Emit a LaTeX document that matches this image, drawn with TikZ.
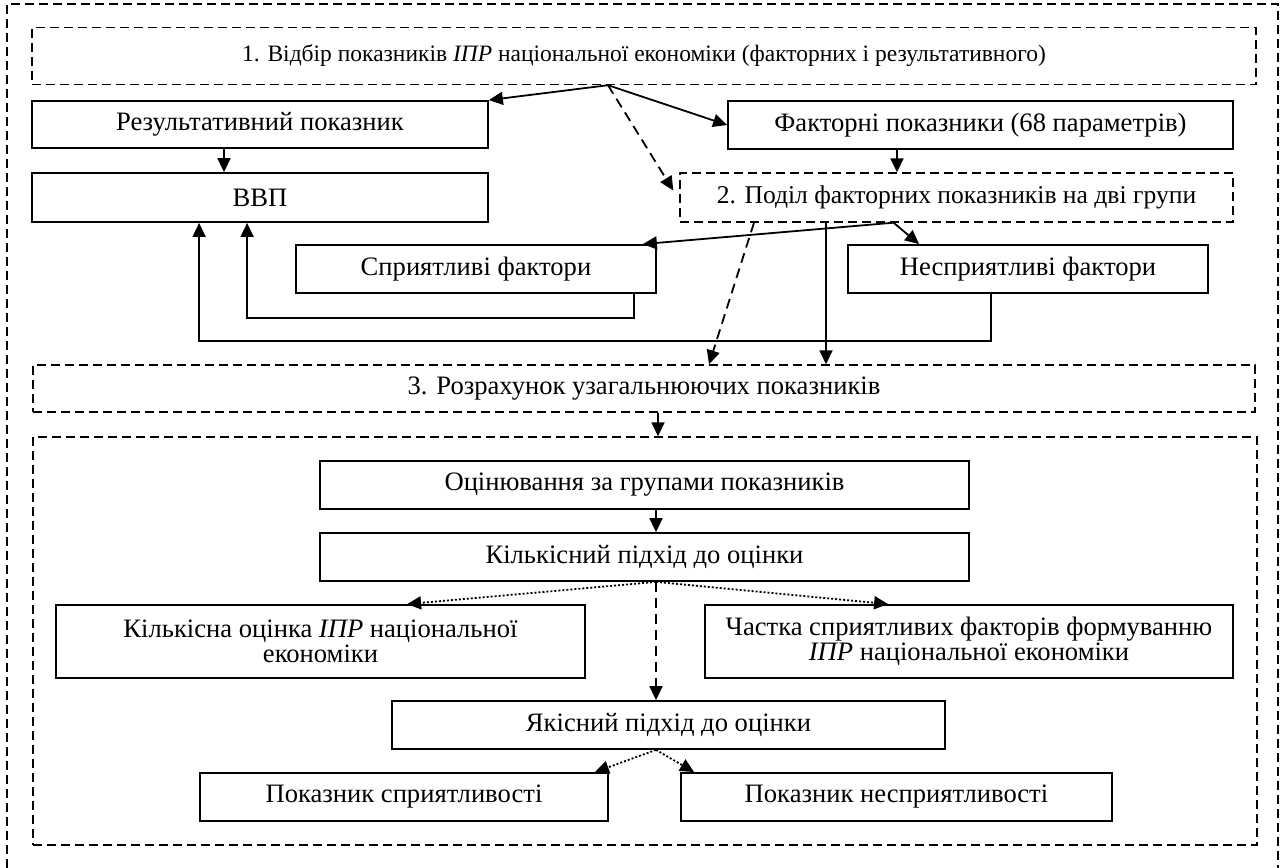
\documentclass[tikz,border=0pt]{standalone}
\usepackage{fontspec}
\setmainfont{Liberation Serif}
\usetikzlibrary{arrows.meta,calc}
\tikzset{
  box/.style={draw, line width=0.9pt, inner sep=0pt, align=center},
  dbox/.style={draw, line width=0.7pt, dash pattern=on 4.5pt off 2.5pt, inner sep=0pt, align=center},
  arr/.style={line width=0.9pt, -{Triangle[length=7pt,width=6.5pt]}},
  dasharr/.style={dash pattern=on 5pt off 3pt},
  dotarr/.style={dash pattern=on 1pt off 1pt}
}
\begin{document}
\begin{tikzpicture}[x=0.5pt,y=-0.5pt,font=\fontsize{13.3}{12.5}\selectfont]
\useasboundingbox (0,0) rectangle (1281,868);
\draw[line width=0.7pt, dash pattern=on 4.5pt off 2.5pt] (7,868) -- (7,4) -- (1278,4) -- (1278,868);

% stage 1
\node[dbox, minimum width=612pt, minimum height=28.5pt, font=\fontsize{11.75}{13}\selectfont] (s1) at (644,56) {1. Відбір показників \textit{ІПР} національної економіки (факторних і результативного)};
\node[box, minimum width=228pt, minimum height=23.5pt] (rez) at (260,124.5) {Результативний показник};
\node[box, minimum width=228pt, minimum height=24.5pt] (vvp) at (260,197.5) {ВВП};
\node[box, minimum width=252.5pt, minimum height=24pt] (fact) at (980.5,125) {Факторні показники (68 параметрів)};

% stage 2
\node[dbox, minimum width=276.5pt, minimum height=24.5pt, font=\fontsize{12.8}{13}\selectfont] (s2) at (956.5,197.5) {2. Поділ факторних показників на дві групи};
\node[box, minimum width=180pt, minimum height=24pt] (spr) at (476,269) {Сприятливі фактори};
\node[box, minimum width=180pt, minimum height=24pt] (nespr) at (1028,269) {Несприятливі фактори};

% stage 3
\node[dbox, minimum width=611pt, minimum height=23.5pt] (s3) at (644,388.5) {3. Розрахунок узагальнюючих показників};
\node[dbox, minimum width=612pt, minimum height=204pt] (grp) at (645,641) {};
\node[box, minimum width=324.5pt, minimum height=24pt] (ocin) at (644.5,485) {Оцінювання за групами показників};
\node[box, minimum width=324.5pt, minimum height=24pt] (kilk) at (644.5,557) {Кількісний підхід до оцінки};
\node[box, minimum width=264.5pt, minimum height=36.5pt] (kocin) at (320.5,641.5) {Кількісна оцінка \textit{ІПР} національної\\економіки};
\node[box, minimum width=264pt, minimum height=36.5pt] (chast) at (969,641.5) {Частка сприятливих факторів формуванню\\\textit{ІПР} національної економіки};
\node[box, minimum width=276.5pt, minimum height=24pt] (yak) at (668.5,725) {Якісний підхід до оцінки};
\node[box, minimum width=204pt, minimum height=24pt] (pspr) at (404,797) {Показник сприятливості};
\node[box, minimum width=215.5pt, minimum height=24pt] (pnespr) at (896.5,797) {Показник несприятливості};

% arrows
\coordinate (o1) at ($(s1.south)+(-36,0)$);
\draw[arr] (o1) -- (rez.north east);
\draw[arr,dasharr] (o1) -- ($(s2.west)+(-6,-7)$);
\draw[arr] (o1) -- (fact.west);
\coordinate (r1) at ($(rez.south)+(-36,0)$);
\draw[arr] (r1) -- (r1 |- vvp.north);
\coordinate (f1) at ($(fact.south)+(-83.5,0)$);
\draw[arr] (f1) -- (f1 |- s2.north);
\coordinate (d1) at ($(s2.south)+(-63,0)$);
\draw[arr] (d1) -- ($(spr.north east)+(-14,0)$);
\draw[arr] (d1) -- ($(nespr.north west)+(72,0)$);
\draw[arr,dasharr] ($(s2.south)+(-202.5,0)$) -- ($(s3.north)+(65,0)$);
\coordinate (d2) at ($(s2.south)+(-130.5,0)$);
\draw[arr] (d2) -- (d2 |- s3.north);
\draw[arr] ($(spr.south east)+(-23,0)$) -- ++(0,24) -| ($(vvp.south west)+(216,0)$);
\draw[arr] ($(nespr.south west)+(144,0)$) -- ++(0,47) -| ($(vvp.south west)+(168,0)$);
\coordinate (g1) at ($(s3.south)+(14,0)$);
\draw[arr] (g1) -- (g1 |- grp.north);
\coordinate (k0) at ($(ocin.south)+(11.5,0)$);
\draw[arr] (k0) -- (k0 |- kilk.north);
\coordinate (k1) at ($(kilk.south)+(11.5,0)$);
\draw[arr,dotarr] (k1) -- ($(kocin.north west)+(352,0)$);
\draw[arr,dotarr] (k1) -- ($(chast.north west)+(184,0)$);
\draw[arr,dasharr] (k1) -- (k1 |- yak.north);
\coordinate (y1) at ($(yak.south)+(-12.5,0)$);
\draw[arr,dotarr] (y1) -- ($(pspr.north east)+(-14,0)$);
\draw[arr,dotarr] (y1) -- ($(pnespr.north west)+(14,0)$);
\end{tikzpicture}
\end{document}
